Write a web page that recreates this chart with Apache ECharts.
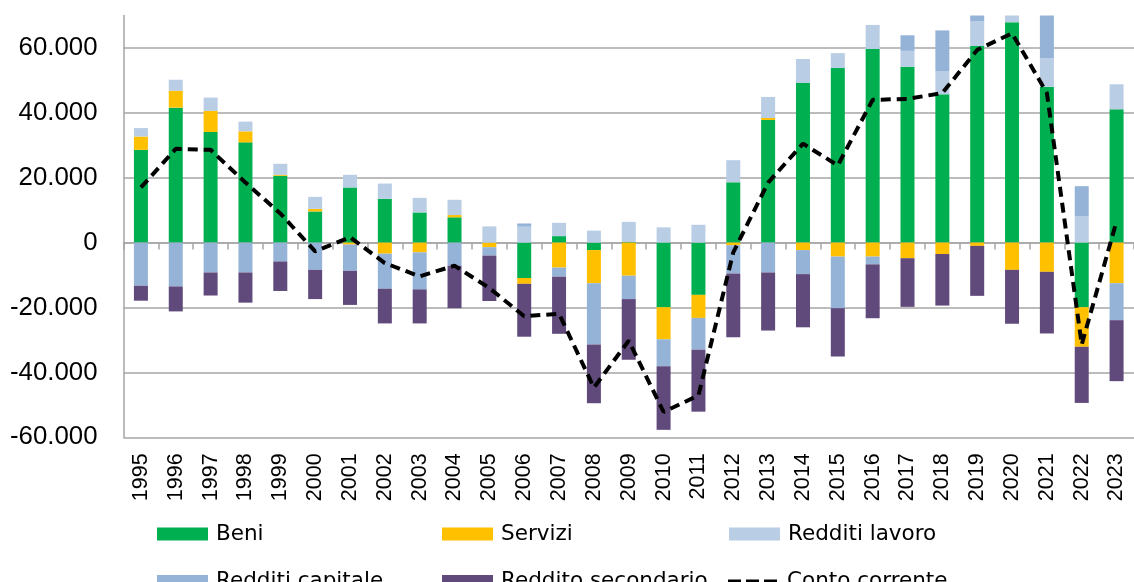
<!DOCTYPE html>
<html>
<head>
<meta charset="utf-8">
<script src="https://cdn.jsdelivr.net/npm/echarts@6/dist/echarts.min.js"></script>
<style>
  html, body { margin: 0; padding: 0; background: #fff; }
  #chart { width: 1134px; height: 582px; }
</style>
</head>
<body>
<div id="chart"></div>
<script>
// Bilancia dei pagamenti: componenti del conto corrente (milioni di euro)
const anni = ['1995','1996','1997','1998','1999','2000','2001','2002','2003','2004',
  '2005','2006','2007','2008','2009','2010','2011','2012','2013','2014',
  '2015','2016','2017','2018','2019','2020','2021','2022','2023'];

const beni = [28600, 41600, 34100, 30900, 20600, 9600, 17000, 13500, 9300, 7800,
  0, -10900, 2000, -2300, 200, -19900, -16100, 18600, 37800, 49200,
  53800, 59700, 54200, 45700, 60600, 67900, 48000, -19900, 41100];

const servizi = [4100, 5200, 6500, 3400, 300, 800, -600, -3400, -3000, 700,
  -1400, -1800, -7700, -10200, -10200, -9900, -7100, -800, 600, -2300,
  -4300, -4300, -4800, -3500, -1000, -8400, -9000, -12200, -12500];

const redditiLavoro = [2600, 3400, 4100, 3000, 3400, 3700, 3900, 4700, 4500, 4700,
  5000, 4900, 4100, 3700, 6200, 4700, 5500, 6800, 6500, 7400,
  4600, 7400, 4900, 7200, 7700, 2500, 8800, 8200, 7700];

const redditiCapitale = [-13300, -13500, -9200, -9200, -5800, -8400, -8100, -10800, -11400, -7100,
  -2600, 1000, -2800, -18900, -7200, -8300, -9800, -8700, -9200, -7400,
  -15900, -2400, 4800, 12500, 2500, 0, 14000, 9200, -11400];

const redditoSecondario = [-4600, -7700, -7100, -9300, -9100, -9000, -10500, -10700, -10500, -13100,
  -14000, -16300, -17600, -18100, -18700, -19600, -19100, -19700, -17900, -16400,
  -14900, -16600, -15000, -15900, -15400, -16600, -19000, -17300, -18800];

const contoCorrente = [17000, 28900, 28600, 18500, 9000, -2700, 1700, -6300, -10400, -7100,
  -14000, -22700, -21900, -44700, -30200, -52200, -47100, -3000, 18500, 30500,
  23800, 44000, 44300, 46100, 59400, 64500, 46100, -31400, 6600];

const ticksY = { min: -60000, max: 70000, step: 20000 };

const colori = {
  beni: '#00B050',
  servizi: '#FFC000',
  lavoro: '#B9CDE5',
  capitale: '#95B3D7',
  secondario: '#604A7B',
  conto: '#000000'
};

// 60000 -> "60.000"
function formatIt(v) {
  const s = String(Math.abs(Math.round(v))).replace(/\B(?=(\d{3})+(?!\d))/g, '.');
  return (v < 0 ? '-' : '') + s;
}

const gridColor = '#A6A6A6';
const fontMain = '"Liberation Sans", Arial, sans-serif';
const fontLegend = '"DejaVu Sans", Verdana, sans-serif';

// three short dashes, used as the legend key of the dashed line
const dashIcon = 'path://M0,0h13v4h-13z M18,0h13v4h-13z M36,0h13v4h-13z';

function barSeries(name, data, color) {
  return {
    name: name,
    type: 'bar',
    stack: 'cc',
    barWidth: 14,
    data: data,
    itemStyle: { color: color },
    emphasis: { disabled: true }
  };
}

function legendItem(name, left, top) {
  const isLine = name === 'Conto corrente';
  return {
    data: [isLine ? { name: name, icon: dashIcon, itemStyle: { color: '#000' } } : name],
    left: left,
    top: top,
    padding: 0,
    itemWidth: isLine ? 49 : 51,
    itemHeight: isLine ? 4 : 13,
    icon: isLine ? dashIcon : 'rect',
    symbolKeepAspect: false,
    selectedMode: false,
    textStyle: {
      fontFamily: fontLegend,
      fontSize: 21.5,
      color: '#000',
      lineHeight: 22,
      padding: [0, 0, 0, isLine ? 5 : 3]
    }
  };
}

const chart = echarts.init(document.getElementById('chart'), null, { renderer: 'canvas' });

chart.setOption({
  animation: false,
  backgroundColor: '#fff',
  grid: { left: 123.5, top: 15.5, width: 1015, bottom: 144.7, containLabel: false },
  legend: [
    legendItem('Beni', 157, 523),
    legendItem('Servizi', 442, 523),
    legendItem('Redditi lavoro', 729, 523),
    legendItem('Redditi capitale', 157, 570.5),
    legendItem('Reddito secondario', 442, 570.5),
    legendItem('Conto corrente', 728, 570.5)
  ],
  xAxis: [
    {
      type: 'category',
      data: anni,
      position: 'bottom',
      axisLine: { onZero: true, lineStyle: { color: gridColor, width: 1.5 } },
      axisTick: { show: true, length: 7, lineStyle: { color: gridColor, width: 1.5 } },
      axisLabel: { show: false },
      splitLine: { show: false }
    },
    {
      type: 'category',
      data: anni,
      position: 'bottom',
      axisLine: { show: false, onZero: false },
      axisTick: { show: false },
      axisLabel: {
        rotate: 90,
        margin: 16,
        interval: 0,
        color: '#000',
        fontFamily: fontMain,
        fontSize: 21.5
      },
      splitLine: { show: false }
    }
  ],
  yAxis: {
    type: 'value',
    min: ticksY.min,
    max: ticksY.max,
    interval: ticksY.step,
    axisLine: { show: true, lineStyle: { color: gridColor, width: 1.5 } },
    axisTick: { show: false },
    axisLabel: {
      margin: 26,
      color: '#000',
      fontFamily: fontMain,
      fontSize: 25.8,
      showMaxLabel: false,
      formatter: function (v) { return v === ticksY.max ? '' : formatIt(v); }
    },
    splitLine: { show: true, showMaxLine: false, lineStyle: { color: gridColor, width: 1.5 } }
  },
  series: [
    barSeries('Beni', beni, colori.beni),
    barSeries('Servizi', servizi, colori.servizi),
    barSeries('Redditi lavoro', redditiLavoro, colori.lavoro),
    barSeries('Redditi capitale', redditiCapitale, colori.capitale),
    barSeries('Reddito secondario', redditoSecondario, colori.secondario),
    {
      name: 'Conto corrente',
      type: 'line',
      data: contoCorrente,
      symbol: 'none',
      z: 5,
      itemStyle: { color: colori.conto },
      lineStyle: { color: colori.conto, width: 4, type: [10, 6] },
      emphasis: { disabled: true }
    }
  ]
});
</script>
</body>
</html>
